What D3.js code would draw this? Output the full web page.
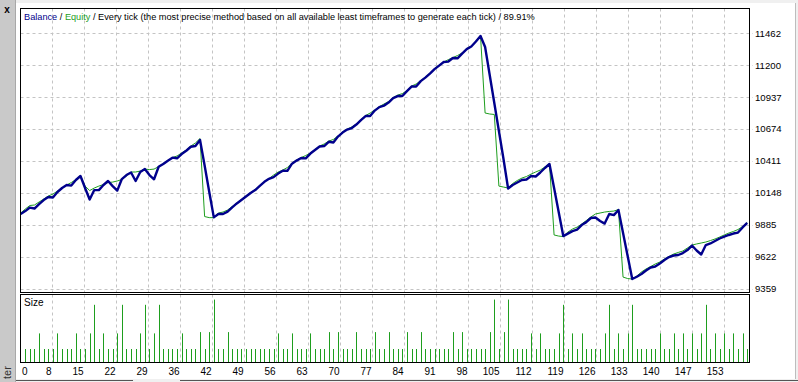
<!DOCTYPE html>
<html>
<head>
<meta charset="utf-8">
<script src="https://cdn.jsdelivr.net/npm/d3@7"></script>
<style>
  body { margin: 0; background: #f0f0f0; }
  svg { display: block; font-family: "Liberation Sans", Arial, sans-serif; }
</style>
</head>
<body>
<div id="tester"></div>
<script>
// balance after each trade (index 0 = start)
var balance = [
  9973, 9997, 10026, 10018, 10055, 10088, 10113, 10109, 10154, 10187,
  10212, 10207, 10253, 10286, 10187, 10092, 10170, 10170, 10212, 10245,
  10203, 10166, 10261, 10294, 10315, 10245, 10319, 10343, 10294, 10259,
  10362, 10385, 10412, 10437, 10432, 10467, 10494, 10527, 10533, 10583,
  10373, 10156, 9945, 9973, 9973, 9993, 10028, 10060, 10088, 10117,
  10146, 10170, 10205, 10238, 10263, 10277, 10306, 10329, 10329, 10388,
  10413, 10434, 10431, 10471, 10500, 10529, 10533, 10568, 10562, 10611,
  10644, 10669, 10681, 10710, 10747, 10780, 10780, 10825, 10854, 10866,
  10891, 10928, 10945, 10945, 10986, 11023, 11023, 11068, 11097, 11130,
  11167, 11196, 11225, 11229, 11258, 11256, 11295, 11332, 11353, 11394,
  11440, 11349, 11118, 10888, 10657, 10426, 10183, 10212, 10232, 10253,
  10257, 10286, 10282, 10315, 10352, 10385, 10187, 9989, 9791, 9811,
  9832, 9844, 9882, 9906, 9940, 9944, 9915, 9894, 9973, 9964,
  10006, 9816, 9626, 9437, 9456, 9478, 9507, 9532, 9540, 9565,
  9594, 9618, 9631, 9635, 9651, 9676, 9713, 9672, 9639, 9717,
  9730, 9750, 9771, 9787, 9800, 9812, 9820, 9862, 9899
];

var equity = [
  9981, 10014, 10043, 10047, 10072, 10096, 10121, 10137, 10162, 10187,
  10212, 10232, 10257, 10290, 10203, 10166, 10187, 10203, 10216, 10232,
  10236, 10245, 10257, 10286, 10319, 10319, 10327, 10343, 10339, 10343,
  10364, 10389, 10413, 10438, 10451, 10476, 10500, 10533, 10558, 10595,
  9952, 9943, 9943, 9981, 9989, 10006, 10035, 10063, 10092, 10121,
  10150, 10174, 10207, 10240, 10265, 10294, 10319, 10335, 10356, 10393,
  10418, 10438, 10455, 10475, 10504, 10533, 10550, 10574, 10587, 10616,
  10649, 10673, 10690, 10714, 10751, 10784, 10805, 10830, 10858, 10879,
  10899, 10932, 10953, 10965, 10990, 11027, 11044, 11072, 11101, 11134,
  11171, 11200, 11225, 11245, 11262, 11279, 11300, 11336, 11357, 11398,
  11443, 10805, 10797, 10793, 10203, 10195, 10187, 10224, 10249, 10269,
  10282, 10302, 10319, 10335, 10360, 10389, 9800, 9791, 9787, 9824,
  9849, 9865, 9890, 9919, 9948, 9973, 9981, 9989, 9994, 9997,
  10010, 9453, 9441, 9437, 9462, 9495, 9520, 9540, 9561, 9577,
  9602, 9623, 9643, 9656, 9668, 9693, 9717, 9726, 9734, 9742,
  9754, 9767, 9783, 9800, 9816, 9829, 9845, 9870, 9903
];

// lot size of trades 1..158
var sizes = [
  0.1, 0.1, 0.1, 0.22, 0.1, 0.1, 0.1, 0.22, 0.1, 0.1,
  0.1, 0.22, 0.1, 0.1, 0.22, 0.44, 0.1, 0.22, 0.1, 0.1,
  0.22, 0.44, 0.1, 0.1, 0.1, 0.22, 0.44, 0.1, 0.22, 0.44,
  0.1, 0.1, 0.1, 0.1, 0.22, 0.1, 0.1, 0.1, 0.23, 0.1,
  0.23, 0.48, 0.1, 0.1, 0.23, 0.1, 0.1, 0.1, 0.1, 0.1,
  0.1, 0.1, 0.1, 0.1, 0.1, 0.22, 0.1, 0.1, 0.22, 0.1,
  0.1, 0.1, 0.22, 0.1, 0.1, 0.1, 0.23, 0.1, 0.23, 0.1,
  0.1, 0.1, 0.23, 0.1, 0.1, 0.1, 0.23, 0.1, 0.1, 0.23,
  0.1, 0.1, 0.1, 0.23, 0.1, 0.1, 0.23, 0.1, 0.1, 0.1,
  0.1, 0.1, 0.1, 0.23, 0.1, 0.23, 0.1, 0.1, 0.1, 0.1,
  0.1, 0.23, 0.48, 0.1, 0.23, 0.48, 0.1, 0.1, 0.1, 0.1,
  0.22, 0.1, 0.22, 0.1, 0.1, 0.1, 0.22, 0.44, 0.1, 0.22,
  0.1, 0.22, 0.1, 0.1, 0.1, 0.1, 0.22, 0.44, 0.1, 0.22,
  0.1, 0.22, 0.44, 0.1, 0.1, 0.1, 0.1, 0.1, 0.22, 0.1,
  0.1, 0.22, 0.1, 0.22, 0.1, 0.22, 0.1, 0.22, 0.44, 0.1,
  0.22, 0.1, 0.22, 0.1, 0.22, 0.1, 0.22, 0.1
];

var yTicks = [9359, 9622, 9885, 10148, 10411, 10674, 10937, 11200, 11462];
var xTickLabels = ["0", "8", "15", "22", "29", "36", "42", "49", "56", "63", "70", "77",
  "84", "91", "98", "105", "112", "119", "126", "133", "140", "147", "153"];

function init() {
  var W = 798, H = 382;
  var left = 20.5, right = 749.5;
  var main = { top: 8.5, bottom: 292.5 };
  var sub = { top: 294.5, bottom: 362.5 };

  var svg = d3.select("#tester").append("svg").attr("width", W).attr("height", H);

  // window chrome
  svg.append("rect").attr("x", 16).attr("y", 3).attr("width", 779).attr("height", 376).attr("fill", "#fff");
  svg.append("rect").attr("x", 0).attr("y", 0).attr("width", 15).attr("height", H).attr("fill", "#c9c9c9");
  svg.append("line").attr("x1", 15.5).attr("x2", 15.5).attr("y1", 0).attr("y2", H).attr("stroke", "#a8a8a8");
  svg.append("text").attr("x", 7).attr("y", 13).attr("text-anchor", "middle")
    .style("font-size", "10px").style("font-weight", "bold").text("x");
  svg.append("text").attr("transform", "translate(11,379) rotate(-90)")
    .style("font-size", "11px").attr("fill", "#333").text("ter");
  svg.append("line").attr("x1", 795.5).attr("x2", 795.5).attr("y1", 3).attr("y2", 379).attr("stroke", "#bdbdbd");
  svg.append("path").attr("d", "M16,380.5H133M180,380.5H798").attr("stroke", "#555").attr("fill", "none");

  // scales
  var x = d3.scaleLinear().domain([0, balance.length - 1]).range([20.7, 747.2]);
  var xGrid = d3.scalePoint().domain(xTickLabels).range([20, 724]);
  var y = d3.scaleLinear().domain([9359, 11462]).range([288.5, 33.3]);
  var ySize = d3.scaleLinear().domain([0, 0.52]).range([362, 294.4]);

  // panels
  [main, sub].forEach(function (p) {
    svg.append("rect").attr("x", left).attr("y", p.top)
      .attr("width", right - left).attr("height", p.bottom - p.top)
      .attr("fill", "#fff");
  });

  var grid = svg.append("g").attr("stroke", "#c4c4c4").attr("stroke-dasharray", "3,3");
  grid.selectAll("line.h").data(yTicks).enter().append("line")
    .attr("x1", left).attr("x2", 753)
    .attr("y1", function (d) { return Math.round(y(d)) + 0.5; })
    .attr("y2", function (d) { return Math.round(y(d)) + 0.5; });
  [main, sub].forEach(function (p) {
    grid.append("g").selectAll("line").data(xTickLabels.slice(1)).enter().append("line")
      .attr("x1", function (d) { return xGrid(d) + 0.5; })
      .attr("x2", function (d) { return xGrid(d) + 0.5; })
      .attr("y1", p.top).attr("y2", p.bottom);
  });

  // equity and balance
  svg.append("path").datum(equity)
    .attr("fill", "none").attr("stroke", "#1e9e1e").attr("stroke-width", 1)
    .attr("d", d3.line().x(function (d, i) { return x(i); }).y(function (d) { return y(d); }));
  svg.append("path").datum(balance)
    .attr("fill", "none").attr("stroke", "#00008c").attr("stroke-width", 2.4)
    .attr("stroke-linejoin", "round")
    .attr("d", d3.line().x(function (d, i) { return x(i); }).y(function (d) { return y(d); }));

  // size bars
  svg.append("g").selectAll("line").data(sizes).enter().append("line")
    .attr("x1", function (d, i) { return Math.round(x(i + 1)) + 0.5; })
    .attr("x2", function (d, i) { return Math.round(x(i + 1)) + 0.5; })
    .attr("y1", ySize(0)).attr("y2", function (d) { return ySize(d); })
    .attr("stroke", "#1e9e1e").attr("stroke-width", 1);

  // borders
  [main, sub].forEach(function (p) {
    svg.append("rect").attr("x", left).attr("y", p.top)
      .attr("width", right - left).attr("height", p.bottom - p.top)
      .attr("fill", "none").attr("stroke", "#000");
  });

  // labels
  var title = svg.append("text").attr("x", 24).attr("y", 20).style("font-size", "9.2px");
  title.append("tspan").attr("fill", "#00008c").text("Balance");
  title.append("tspan").attr("fill", "#000").text(" / ");
  title.append("tspan").attr("fill", "#1e9e1e").text("Equity");
  title.append("tspan").attr("fill", "#000")
    .text(" / Every tick (the most precise method based on all available least timeframes to generate each tick) / 89.91%");

  svg.append("text").attr("x", 24).attr("y", 306).style("font-size", "10px").text("Size");

  svg.append("g").selectAll("text").data(yTicks).enter().append("text")
    .attr("x", 755).attr("y", function (d) { return y(d) + 3.5; })
    .style("font-size", "9.6px").text(function (d) { return d; });

  svg.append("g").selectAll("text").data(xTickLabels).enter().append("text")
    .attr("x", function (d, i) { return i === 0 ? 22 : xGrid(d) - 0.5; })
    .attr("y", 375)
    .attr("text-anchor", function (d, i) { return i === 0 ? "start" : "end"; })
    .style("font-size", "10px").text(function (d) { return d; });
}

window.onload = init;
</script>
</body>
</html>
